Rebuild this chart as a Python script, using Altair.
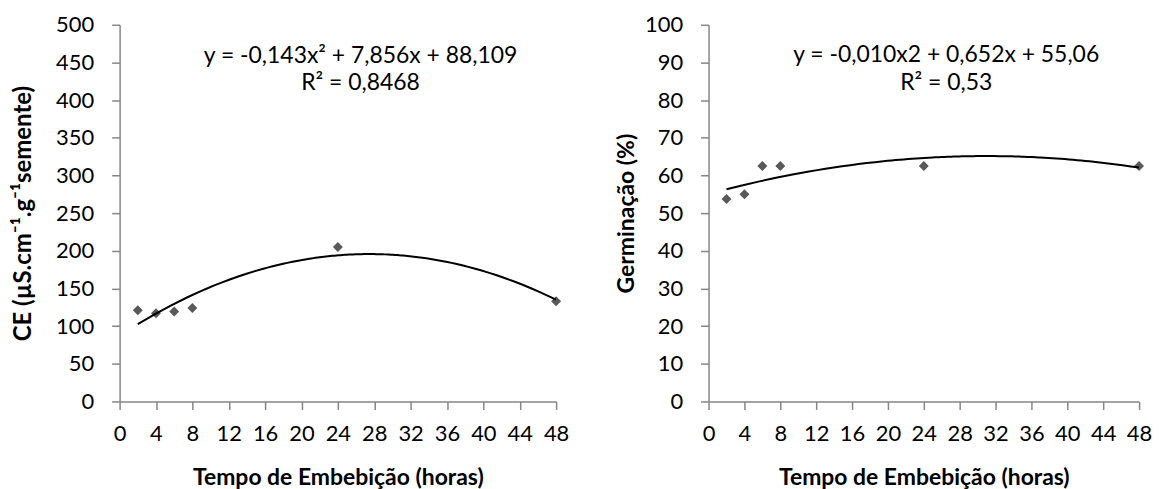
import altair as alt
import pandas as pd

# ---- data ----
horas = [2, 4, 6, 8, 24, 48]
ce = [121, 117, 119.5, 124, 205, 133]
germinacao = [53.75, 55, 62.5, 62.5, 62.5, 62.5]

x_ticks = list(range(0, 49, 4))
ce_ticks = list(range(0, 501, 50))
germ_ticks = list(range(0, 101, 10))

ce_eq = ["y = -0,143x² + 7,856x + 88,109", "R² = 0,8468"]
germ_eq = ["y = -0,010x2 + 0,652x + 55,06", "R² = 0,53"]
ce_eq_y = [459, 423]
germ_eq_y = [91.9, 84.6]
eq_x = [26.5, 26.5]

FONT = "Lato"
GRAY = "#868686"


def panel(yvals, yticks, ydomain, ytitle, ytitle_size, ytitle_pad, eq_lines, eq_y, width):
    df = pd.DataFrame({"x": horas, "y": yvals})
    xenc = alt.X(
        "x:Q",
        scale=alt.Scale(domain=[0, 48], nice=False, zero=False),
        axis=alt.Axis(values=x_ticks, title="Tempo de Embebição (horas)",
                      labelFlush=False, labelOverlap=False, titleFontSize=23,
                      titlePadding=22, labelPadding=14),
    )
    yenc = alt.Y(
        "y:Q",
        scale=alt.Scale(domain=ydomain, nice=False),
        axis=alt.Axis(values=yticks, title=ytitle, titleFontSize=ytitle_size,
                      titlePadding=ytitle_pad, labelPadding=18,
                      labelOverlap=False),
    )
    pts = alt.Chart(df).mark_point(
        shape="diamond", filled=True, size=100, color="#595959", opacity=1
    ).encode(x=xenc, y=yenc)
    fit = alt.Chart(df).transform_regression(
        "x", "y", method="poly", order=2
    ).mark_line(color="black", strokeWidth=2).encode(x=xenc, y=yenc)
    txt_df = pd.DataFrame({"x": eq_x, "y": eq_y, "t": eq_lines})
    txt = alt.Chart(txt_df).mark_text(
        font=FONT, fontSize=23, align="center", baseline="middle", color="black"
    ).encode(x=xenc, y=yenc, text="t:N")
    return alt.layer(pts, fit, txt).properties(width=width, height=378)


left = panel(ce, ce_ticks, [0, 500], "CE (µS.cm⁻¹.g⁻¹semente)", 24, 20,
             ce_eq, ce_eq_y, 438)
right = panel(germinacao, germ_ticks, [0, 100], "Germinação (%)", 23, 6,
              germ_eq, germ_eq_y, 432)

chart = alt.hconcat(left, right, spacing=153, bounds="flush").configure(
    padding={"left": 3, "top": 5, "right": 0, "bottom": 0}
).configure_view(stroke=None).configure_axis(
    domainColor=GRAY, domainWidth=1.5, tickColor=GRAY, tickWidth=1.5,
    tickSize=8, grid=False, labelFont=FONT, labelFontSize=22,
    labelColor="black", titleFont=FONT, titleFontWeight="bold",
    titleColor="black",
)

chart.save("out.html", embed_options={"renderer": "svg", "actions": False})
